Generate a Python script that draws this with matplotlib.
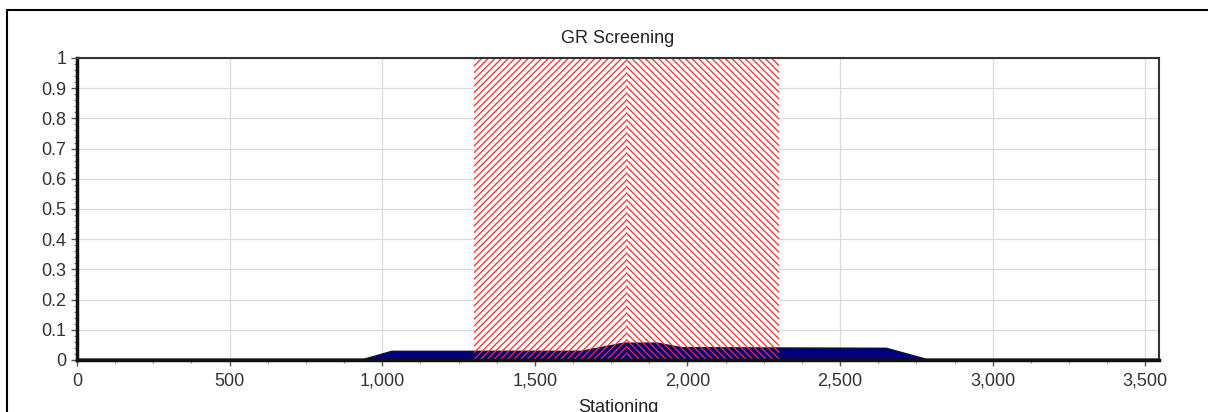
import numpy as np
import matplotlib
matplotlib.use("Agg")
import matplotlib.pyplot as plt
from matplotlib.patches import Rectangle
from matplotlib.ticker import MultipleLocator, FuncFormatter

plt.rcParams['font.family'] = ['Liberation Sans', 'DejaVu Sans']
plt.rcParams['hatch.linewidth'] = 0.9

# GR screening profile
station = [0, 940, 1030, 1650, 1790, 1900, 1980, 2650, 2780, 3545]
gr_value = [0.004, 0.004, 0.03, 0.03, 0.057, 0.057, 0.042, 0.04, 0.004, 0.004]

# hatched zones (start, end, hatch pattern)
zone_start = [1300, 1800]
zone_end = [1800, 2300]
zone_hatch = ['/////', '\\\\\\\\\\']

x_max = 3545

fig = plt.figure(figsize=(12.08, 4.12), dpi=100)
ax = fig.add_axes([77 / 1208, 52 / 412, 1082 / 1208, 302 / 412])
ax.set_axisbelow(True)

# frame round the whole chart
fig.patches.append(Rectangle((7 / 1208, -0.1), 1.2, (402 / 412) + 0.1,
                             transform=fig.transFigure, fill=False,
                             edgecolor='black', linewidth=1.5))

ax.grid(True, color='#dadada', linewidth=0.9)

for s, e, h in zip(zone_start, zone_end, zone_hatch):
    ax.add_patch(Rectangle((s, 0), e - s, 1, facecolor='white', edgecolor='none', zorder=1))

ax.fill_between(station, 0, gr_value, facecolor='#00007a', edgecolor='#101030',
                linewidth=1.2, zorder=2)

for s, e, h in zip(zone_start, zone_end, zone_hatch):
    ax.add_patch(Rectangle((s, 0), e - s, 1, facecolor='none', edgecolor='#ff2a2a',
                           hatch=h, linewidth=0, zorder=3))

ax.set_xlim(0, x_max)
ax.set_ylim(0, 1)
ax.xaxis.set_major_locator(MultipleLocator(500))
ax.xaxis.set_minor_locator(MultipleLocator(125))
ax.yaxis.set_major_locator(MultipleLocator(0.1))
ax.yaxis.set_minor_locator(MultipleLocator(0.02))
ax.xaxis.set_major_formatter(FuncFormatter(lambda v, p: f'{int(v):,}'))
ax.yaxis.set_major_formatter(FuncFormatter(lambda v, p: '0' if v == 0 else ('1' if abs(v - 1) < 1e-9 else f'{v:.1f}')))

ax.tick_params(axis='both', which='major', direction='out', length=4, width=1,
               colors='#555555', labelsize=13, labelcolor='#333333')
ax.tick_params(axis='x', which='major', pad=5)
ax.tick_params(axis='y', which='major', pad=3.5)
ax.tick_params(axis='both', which='minor', direction='out', length=2, width=0.8,
               colors='#777777')

for side in ['left', 'bottom']:
    ax.spines[side].set_linewidth(2.5)
    ax.spines[side].set_color('#111111')
for side in ['top', 'right']:
    ax.spines[side].set_linewidth(1.5)
    ax.spines[side].set_color('#333333')
for sp in ax.spines.values():
    sp.set_zorder(5)

ax.set_title('GR Screening', fontsize=13, color='#222222', pad=11)
ax.set_xlabel('Stationing', fontsize=13, color='#222222', labelpad=7)

fig.savefig('out.png', dpi=100)
